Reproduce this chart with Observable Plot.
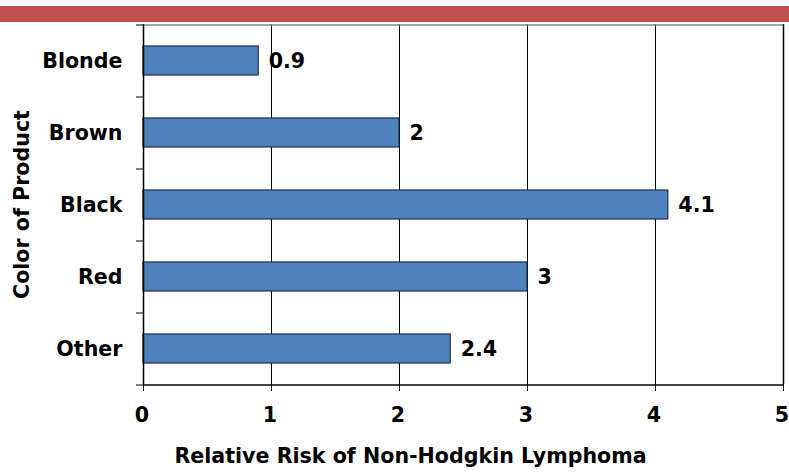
<!DOCTYPE html>
<html>
<head>
<meta charset="utf-8">
<script src="https://cdn.jsdelivr.net/npm/d3@7"></script>
<script src="https://cdn.jsdelivr.net/npm/@observablehq/plot@0.6"></script>
<style>
  html, body { margin: 0; padding: 0; background: #fff; }
  #wrap { position: relative; width: 789px; height: 474px; }
  #band { position: absolute; left: 0; top: 6px; width: 789px; height: 16px; background: #c0504d; }
  #chart { position: absolute; left: 0; top: 0; }
</style>
</head>
<body>
<div id="wrap"><div id="chart"></div><div id="band"></div></div>
<script>
const categories = ["Blonde", "Brown", "Black", "Red", "Other"];
const values = [0.9, 2, 4.1, 3, 2.4];
const xTicks = [0, 1, 2, 3, 4, 5];
const xTitle = "Relative Risk of Non-Hodgkin Lymphoma";
const yTitle = "Color of Product";

const data = categories.map((c, i) => ({category: c, value: values[i]}));

const W = 789, H = 474;
const mt = 24, mb = 90, ml = 143, mr = 6;
const step = (H - mt - mb) / categories.length;
const font = "DejaVu Sans, Verdana, sans-serif";
const fs = 20.6;

const chart = Plot.plot({
  width: W, height: H,
  marginTop: mt, marginBottom: mb, marginLeft: ml, marginRight: mr,
  style: {fontFamily: font, fontSize: fs + "px", fontWeight: "bold", color: "#000", background: "transparent", overflow: "visible"},
  x: {domain: [0, 5], ticks: xTicks},
  y: {domain: categories, paddingInner: 0.6, paddingOuter: 0.3},
  marks: [
    Plot.gridX(xTicks.slice(1), {stroke: "#000", strokeOpacity: 1, strokeWidth: 1}),
    Plot.ruleY([categories[0]], {x1: 0, x2: 5, dy: -step / 2, stroke: "#888", strokeWidth: 1.5}),
    Plot.barX(data, {y: "category", x: "value", fill: "#4f81bd", stroke: "#1f2d45", strokeWidth: 1.2}),
    Plot.text(data, {y: "category", x: "value", text: d => String(d.value), textAnchor: "start", dx: 10, fontSize: fs, fontWeight: "bold", fill: "#000"}),
    Plot.axisX({ticks: xTicks, tickFormat: () => "", tickSize: 7, label: null, stroke: "#000"}),
    Plot.axisX({ticks: xTicks, tickFormat: d => String(d), tickSize: 0, tickPadding: 23, fontSize: fs, fontWeight: "bold", label: null, dx: -1.5}),
    Plot.axisY({tickSize: 0, tickPadding: 21, fontSize: fs, fontWeight: "bold", label: null}),
    Plot.ruleY(categories, {x1: 0, x2: 0, insetLeft: -7, dy: -step / 2, stroke: "#000"}),
    Plot.ruleY([categories[categories.length - 1]], {x1: 0, x2: 0, insetLeft: -7, dy: step / 2, stroke: "#000"}),
    Plot.ruleX([0], {stroke: "#000", strokeWidth: 1.5}),
    Plot.ruleY([categories[categories.length - 1]], {x1: 0, x2: 5, dy: step / 2, stroke: "#000", strokeWidth: 1.5}),
    Plot.ruleX([5], {stroke: "#000", strokeWidth: 1.5}),
    Plot.text([xTitle], {frameAnchor: "bottom", textAnchor: "middle", dy: 78, dx: 410 - (ml + (W - ml - mr) / 2), fontSize: fs, fontWeight: "bold", fill: "#000"}),
    Plot.text([yTitle], {frameAnchor: "left", textAnchor: "middle", dx: -121, rotate: -90, fontSize: fs, fontWeight: "bold", fill: "#000"})
  ]
});
document.getElementById("chart").appendChild(chart);
</script>
</body>
</html>
